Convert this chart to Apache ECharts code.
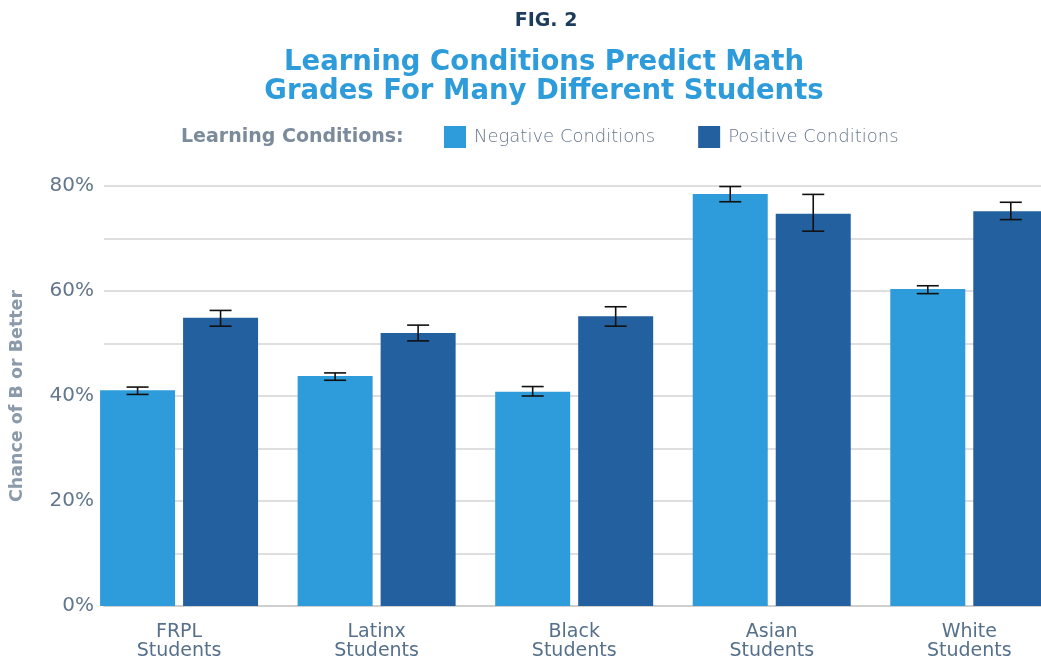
<!DOCTYPE html>
<html>
<head>
<meta charset="utf-8">
<title>Learning Conditions Predict Math Grades</title>
<script src="https://cdn.jsdelivr.net/npm/echarts@6/dist/echarts.min.js"></script>
<style>
  html, body { margin: 0; padding: 0; background: #ffffff; }
  #main { width: 1041px; height: 661px; }
</style>
</head>
<body>
<div id="main"></div>
<script>
// chart values (percent)
const categories = ['FRPL\nStudents', 'Latinx\nStudents', 'Black\nStudents', 'Asian\nStudents', 'White\nStudents'];
const negative = [41.1, 43.8, 40.8, 78.5, 60.4];
const positive = [54.9, 52.0, 55.2, 74.7, 75.2];
// error bar ends
const negLow = [40.3, 43.0, 40.0, 77.0, 59.5];
const negHigh = [41.7, 44.4, 41.8, 79.9, 61.0];
const posLow = [53.3, 50.5, 53.3, 71.4, 73.6];
const posHigh = [56.3, 53.5, 57.0, 78.4, 76.9];
const yTicks = [0, 20, 40, 60, 80];

const NEG_COLOR = '#2e9cda';
const POS_COLOR = '#22609f';
const BAR_W = 75;
const BAR_GAP = 8;
const FONT = 'DejaVu Sans';

let chart = echarts.init(document.getElementById('main'));

function barData(vals) {
    return vals.map((v, i) => [i, v]);
}

function errData(low, high) {
    return low.map((l, i) => [i, l, high[i]]);
}

// draws the whisker, shifted by half a bar + half the gap from the category centre
function errorBar(side) {
    return function (params, api) {
        let x = api.value(0);
        let lo = api.coord([x, api.value(1)]);
        let hi = api.coord([x, api.value(2)]);
        let cx = lo[0] + side * (BAR_W + BAR_GAP) / 2;
        let cap = 11;
        let style = { stroke: '#111', lineWidth: 1.6 };
        return {
            type: 'group',
            children: [
                { type: 'line', shape: { x1: cx, y1: hi[1], x2: cx, y2: lo[1] }, style: style },
                { type: 'line', shape: { x1: cx - cap, y1: hi[1], x2: cx + cap, y2: hi[1] }, style: style },
                { type: 'line', shape: { x1: cx - cap, y1: lo[1], x2: cx + cap, y2: lo[1] }, style: style }
            ]
        };
    };
}

let option = {
    backgroundColor: '#ffffff',
    title: [
        {
            text: 'FIG. 2',
            left: 541,
            textAlign: 'center',
            top: 7,
            textStyle: { fontFamily: FONT, fontWeight: 'bold', fontSize: 19, color: '#1d3b5c' }
        },
        {
            text: 'Learning Conditions Predict Math\nGrades For Many Different Students',
            left: 539,
            textAlign: 'center',
            top: 43,
            textStyle: { fontFamily: FONT, fontWeight: 'bold', fontSize: 27.5, lineHeight: 29, color: '#2e9cda' }
        },
        {
            text: 'Learning Conditions:',
            left: 181,
            top: 128,
            padding: 0,
            textStyle: { fontFamily: FONT, fontWeight: 'bold', fontSize: 19, color: '#7b8b9b' }
        }
    ],
    legend: {
        left: 444,
        top: 126,
        padding: 0,
        itemWidth: 22,
        itemHeight: 22,
        itemGap: 43,
        icon: 'rect',
        data: ['Negative Conditions', 'Positive Conditions'],
        textStyle: { fontFamily: FONT, fontWeight: 300, fontSize: 18, color: '#66778a', padding: [0, 0, 0, 3] }
    },
    grid: { left: 102, right: 0, top: 186, bottom: 55 },
    xAxis: {
        type: 'value',
        min: -0.38,
        max: 4.363,
        axisLine: { show: true, lineStyle: { color: '#cfcfcf', width: 2 } },
        axisTick: { show: false },
        splitLine: { show: false },
        axisLabel: {
            customValues: [0, 1, 2, 3, 4],
            formatter: v => categories[v],
            margin: 17,
            fontFamily: FONT,
            fontSize: 19,
            lineHeight: 19,
            color: '#56708b'
        }
    },
    yAxis: {
        type: 'value',
        min: 0,
        max: 80,
        interval: 10,
        name: 'Chance of B or Better',
        nameLocation: 'middle',
        nameRotate: 90,
        nameGap: 78,
        nameTextStyle: { fontFamily: FONT, fontWeight: 'bold', fontSize: 17.5, color: '#8a9aaa' },
        axisLine: { show: false },
        axisTick: { show: false },
        splitLine: { lineStyle: { color: '#d4d4d4', width: 1.5 } },
        axisLabel: {
            margin: 10,
            fontFamily: FONT,
            fontSize: 20,
            color: '#62778c',
            formatter: v => (yTicks.indexOf(v) >= 0 ? v + '%' : '')
        }
    },
    series: [
        {
            name: 'Negative Conditions',
            type: 'bar',
            barWidth: BAR_W,
            barGap: (BAR_GAP / BAR_W * 100) + '%',
            itemStyle: { color: NEG_COLOR },
            data: barData(negative),
            z: 2
        },
        {
            name: 'Positive Conditions',
            type: 'bar',
            barWidth: BAR_W,
            barGap: (BAR_GAP / BAR_W * 100) + '%',
            itemStyle: { color: POS_COLOR },
            data: barData(positive),
            z: 2
        },
        {
            type: 'custom',
            renderItem: errorBar(-1),
            encode: { x: 0, y: [1, 2] },
            data: errData(negLow, negHigh),
            z: 5,
            clip: false
        },
        {
            type: 'custom',
            renderItem: errorBar(1),
            encode: { x: 0, y: [1, 2] },
            data: errData(posLow, posHigh),
            z: 5,
            clip: false
        }
    ]
};

chart.setOption(option);
</script>
</body>
</html>
